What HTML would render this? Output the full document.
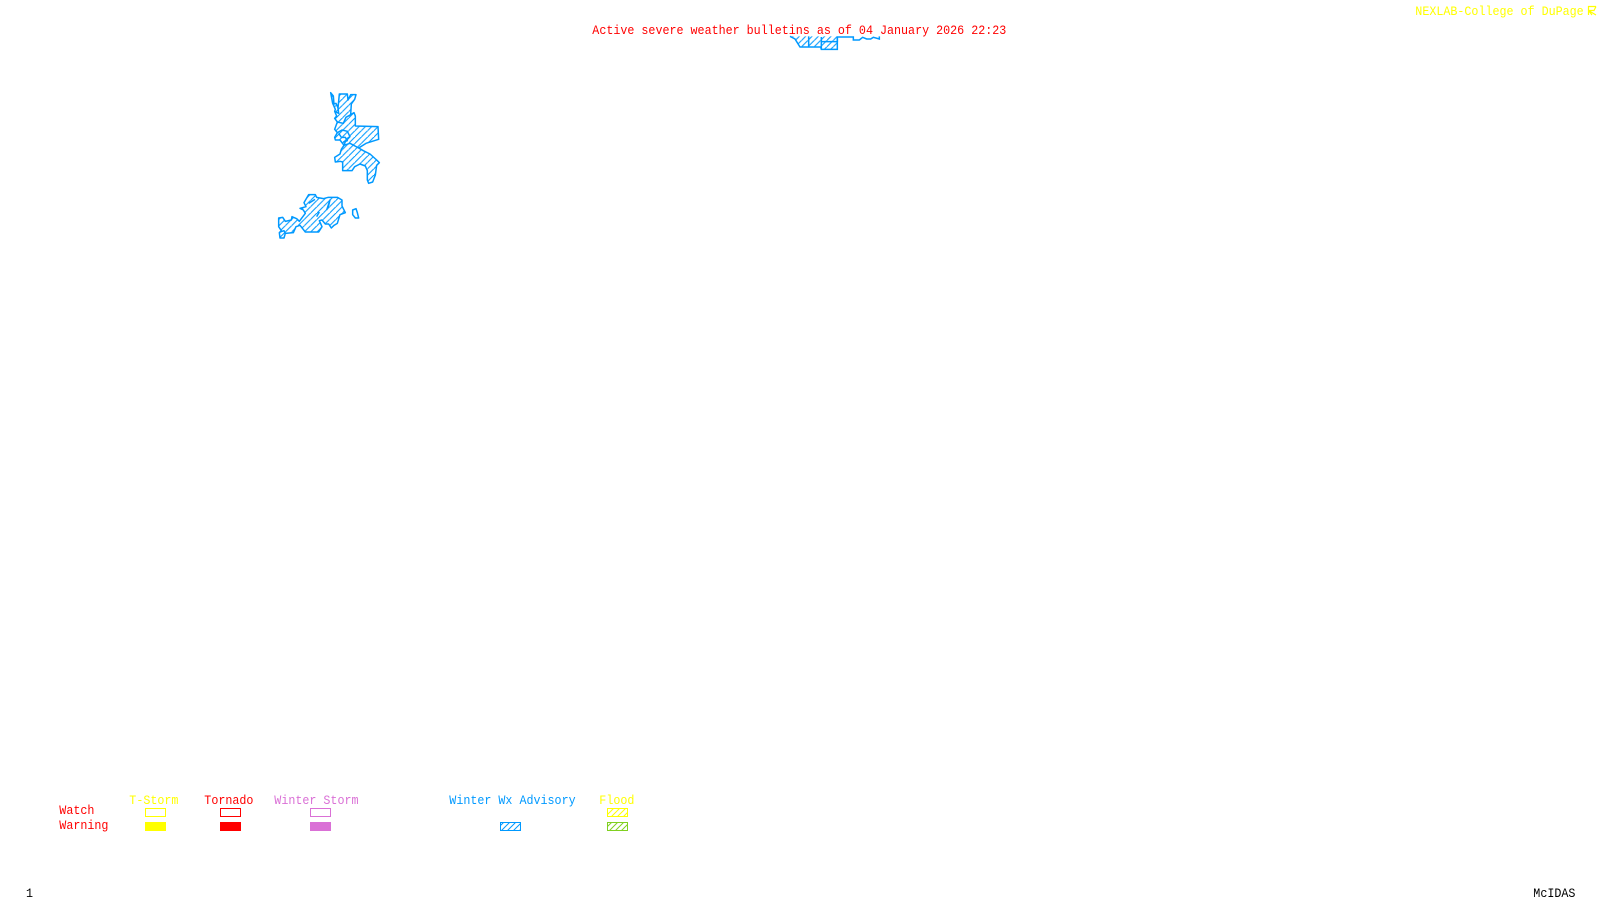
<!DOCTYPE html>
<html><head><meta charset="utf-8"><style>
html,body{margin:0;padding:0;background:#fff;width:1600px;height:900px;overflow:hidden}
svg{display:block}
text{font-family:"Liberation Mono",monospace;font-size:13px;white-space:pre}
</style></head><body>
<svg width="1600" height="900" viewBox="0 0 1600 900" xmlns="http://www.w3.org/2000/svg">
<defs>
<pattern id="hz" patternUnits="userSpaceOnUse" width="19" height="19"><path d="M-5 5L5 -5M-5 24L24 -5" stroke="#0099ff" stroke-width="3.2"/></pattern>
<pattern id="hb" patternUnits="userSpaceOnUse" width="6" height="6"><path d="M-2 8L8 -2M-2 2L2 -2M4 8L8 4" stroke="#0099ff" stroke-width="1"/></pattern>
<pattern id="hy" patternUnits="userSpaceOnUse" width="6" height="6"><path d="M-2 8L8 -2M-2 2L2 -2M4 8L8 4" stroke="#ffff00" stroke-width="1"/></pattern>
<pattern id="hg" patternUnits="userSpaceOnUse" width="6" height="6"><path d="M-2 8L8 -2M-2 2L2 -2M4 8L8 4" stroke="#80d020" stroke-width="1"/></pattern>
</defs>
<g transform="translate(260,80) scale(.33333)" fill="url(#hz)" stroke="#0099ff" stroke-width="4.5" stroke-linejoin="round">
<polygon points="212,38 220,48 222,72 228,70 234,84 238,42 262,42 264,60 272,44 288,44 284,58 274,72 272,104 282,98 286,108 286,138 354,140 356,178 318,190 296,204 310,212 330,222 350,240 358,248 350,256 346,285 338,306 326,310 322,300 322,272 316,258 300,252 284,260 276,272 248,272 248,246 240,244 226,246 224,232 240,222 244,208 252,196 240,180 226,180 224,172 232,158 224,148 232,126 224,115 230,108 224,94 226,88 218,70"/>
<polyline fill="none" points="232,158 246,150 262,154 270,170 256,185 252,196 270,190 296,204"/>
<polyline fill="none" points="232,126 250,130 258,112 272,104"/>
<polyline fill="none" points="226,95 236,100 234,84"/>
<polyline fill="none" points="236,160 244,172 256,172 262,182 250,186"/>
<polygon points="146,344 166,344 170,352 190,356 205,352 232,352 246,360 246,378 256,398 240,404 232,430 222,436 214,444 206,432 196,432 186,420 178,422 186,440 176,456 136,456 120,436 108,440 100,458 76,460 72,474 60,474 58,458 64,452 56,440 56,414 68,412 76,424 94,420 96,410 110,416 118,424 136,400 130,390 120,385 138,380 132,368"/>
<polyline fill="none" points="200,390 210,360 204,384"/>
<polyline fill="none" points="146,370 165,358"/>
<polyline fill="none" points="170,410 178,396"/>
<polyline fill="none" points="60,456 72,452 76,460"/>
<polygon fill="none" points="278,390 288,386 292,398 296,414 286,414 278,404"/>
</g>
<g transform="translate(580,15) scale(.33333)" fill="url(#hz)" stroke="#0099ff" stroke-width="4.5">
<polygon stroke="none" points="630,64 645,72 660,96 722,96 724,103 772,103 772,64"/>
<polyline fill="none" points="630,64 645,72 660,96 722,96 724,103 772,103 772,66"/>
<polyline fill="none" points="686,64 686,96"/><polyline fill="none" points="724,66 724,103"/>
<polyline fill="none" points="724,80 772,80 772,66 820,66 820,75 838,75 848,67 860,72 872,72 880,67 898,72 898,64"/>
</g>
<text transform="translate(592.3,34) scale(.9,1)" fill="#ff0000">Active severe weather bulletins as of 04 January 2026 22:23</text>
<text transform="translate(1415.3,15) scale(.9,1)" fill="#ffff00">NEXLAB-College of DuPage</text>
<g fill="none" stroke="#ffff00" stroke-width="1.2"><path d="M1588 6.5H1596M1588.5 6V15M1592 15L1588.5 10.5L1596 15M1589 10.5H1594L1596 6.5"/></g>
<text transform="translate(129.3,804) scale(.9,1)" fill="#ffff00">T-Storm</text>
<text transform="translate(204.3,804) scale(.9,1)" fill="#ff0000">Tornado</text>
<text transform="translate(274.3,804) scale(.9,1)" fill="#da70d6">Winter Storm</text>
<text transform="translate(449.3,804) scale(.9,1)" fill="#0099ff">Winter Wx Advisory</text>
<text transform="translate(599.3,804) scale(.9,1)" fill="#ffff00">Flood</text>
<text transform="translate(59.3,814) scale(.9,1)" fill="#ff0000">Watch</text>
<text transform="translate(59.3,829) scale(.9,1)" fill="#ff0000">Warning</text>
<rect x="145.5" y="808.5" width="20" height="8" fill="none" stroke="#ffff00"/>
<rect x="145" y="822" width="21" height="9" fill="#ffff00"/>
<rect x="220.5" y="808.5" width="20" height="8" fill="none" stroke="#ff0000"/>
<rect x="220" y="822" width="21" height="9" fill="#ff0000"/>
<rect x="310.5" y="808.5" width="20" height="8" fill="none" stroke="#da70d6"/>
<rect x="310" y="822" width="21" height="9" fill="#da70d6"/>
<rect x="500.5" y="822.5" width="20" height="8" fill="url(#hb)" stroke="#0099ff"/>
<rect x="607.5" y="808.5" width="20" height="8" fill="url(#hy)" stroke="#ffff00"/>
<rect x="607.5" y="822.5" width="20" height="8" fill="url(#hg)" stroke="#80d020"/>
<text transform="translate(1533.3,897) scale(.9,1)" fill="#000">McIDAS</text>
<text transform="translate(26,897) scale(.9,1)" fill="#000">1</text>
</svg>
</body></html>
